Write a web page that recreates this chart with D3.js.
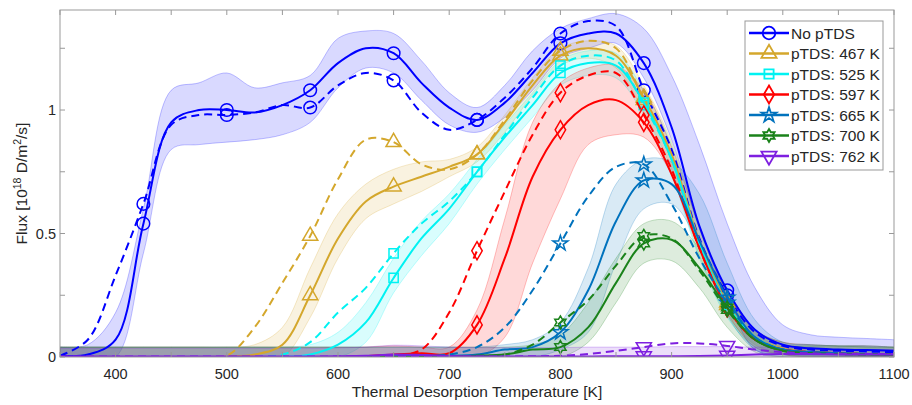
<!DOCTYPE html>
<html>
<head>
<meta charset="utf-8">
<script src="https://cdn.jsdelivr.net/npm/d3@7"></script>
<style>
  body { margin: 0; background: #fff; }
  text { font-family: "Liberation Sans", Arial, sans-serif; fill: #262626; }
</style>
</head>
<body>
<svg id="chart" width="912" height="405"></svg>
<script>
// temperature grid [K]
const temps = [350,375,400,425,450,475,500,525,550,575,600,625,650,675,700,725,750,775,800,825,850,875,900,925,950,975,1000,1025,1050,1075,1100];

// No pTDS
const noSolid  = [0.005,0.01,0.07,0.54,0.95,1.00,1.00,0.99,1.02,1.08,1.19,1.25,1.23,1.11,1.01,0.96,1.03,1.15,1.27,1.31,1.31,1.19,0.93,0.53,0.27,0.11,0.05,0.035,0.03,0.028,0.025];
const noDashed = [0.005,0.07,0.33,0.62,0.94,0.98,0.98,0.99,1.02,1.01,1.10,1.15,1.12,0.99,0.92,0.96,1.05,1.17,1.31,1.36,1.34,1.08,0.84,0.48,0.25,0.10,0.045,0.03,0.025,0.022,0.02];
const noHi     = [0.04,0.05,0.18,0.60,1.08,1.11,1.15,1.09,1.11,1.14,1.29,1.32,1.31,1.20,1.07,1.01,1.10,1.24,1.33,1.37,1.39,1.33,1.14,0.86,0.54,0.28,0.13,0.09,0.08,0.075,0.07];
const noLo     = [0,0,0,0.42,0.84,0.86,0.87,0.88,0.90,0.95,1.09,1.17,1.15,1.04,0.94,0.91,0.97,1.08,1.21,1.25,1.27,1.13,0.88,0.52,0.24,0.03,0.01,0.005,0,0,0];

// pTDS 467 K
const p467Solid  = [0,0,0,0,0,0,0.002,0.01,0.05,0.25,0.48,0.63,0.69,0.73,0.77,0.82,0.95,1.10,1.22,1.25,1.22,1.05,0.82,0.47,0.22,0.08,0.035,0.02,0.015,0.012,0.01];
const p467Dashed = [0,0,0,0,0,0,0.005,0.12,0.30,0.49,0.72,0.88,0.87,0.78,0.76,0.82,0.96,1.12,1.24,1.28,1.25,1.04,0.80,0.45,0.21,0.08,0.03,0.02,0.015,0.012,0.01];
const p467Hi     = [0.04,0.04,0.04,0.04,0.04,0.04,0.04,0.05,0.12,0.36,0.58,0.70,0.76,0.79,0.80,0.85,0.98,1.13,1.25,1.28,1.26,1.10,0.87,0.53,0.27,0.11,0.06,0.05,0.045,0.045,0.04];
const p467Lo     = [0,0,0,0,0,0,0,0,0,0.16,0.40,0.56,0.62,0.67,0.73,0.79,0.91,1.06,1.18,1.21,1.17,0.99,0.76,0.41,0.17,0.05,0.01,0,0,0,0];

// pTDS 525 K
const p525Solid  = [0,0,0,0,0,0,0,0,0,0.01,0.05,0.14,0.32,0.48,0.60,0.75,0.89,1.02,1.15,1.19,1.18,1.03,0.80,0.46,0.21,0.08,0.03,0.02,0.015,0.012,0.01];
const p525Dashed = [0,0,0,0,0,0,0,0,0.01,0.06,0.18,0.28,0.42,0.54,0.63,0.75,0.90,1.05,1.18,1.22,1.20,1.02,0.80,0.45,0.21,0.08,0.03,0.02,0.015,0.012,0.01];
const p525Hi     = [0.04,0.04,0.04,0.04,0.04,0.04,0.04,0.04,0.04,0.05,0.10,0.22,0.40,0.55,0.66,0.80,0.94,1.07,1.20,1.24,1.23,1.08,0.86,0.52,0.26,0.11,0.06,0.05,0.045,0.045,0.04];
const p525Lo     = [0,0,0,0,0,0,0,0,0,0,0,0.06,0.26,0.41,0.54,0.70,0.84,0.97,1.10,1.14,1.13,0.98,0.74,0.40,0.16,0.04,0.01,0,0,0,0];

// pTDS 597 K
const p597Solid  = [0,0,0,0,0,0,0,0,0,0,0,0.003,0.01,0.015,0.015,0.13,0.40,0.73,0.92,1.02,1.04,0.95,0.74,0.44,0.20,0.07,0.03,0.02,0.015,0.012,0.01];
const p597Dashed = [0,0,0,0,0,0,0,0,0,0,0,0,0.005,0.03,0.18,0.43,0.67,0.90,1.07,1.14,1.15,0.98,0.76,0.44,0.20,0.07,0.03,0.02,0.015,0.012,0.01];
const p597Hi     = [0.04,0.04,0.04,0.04,0.04,0.04,0.04,0.04,0.04,0.04,0.04,0.04,0.045,0.04,0.04,0.19,0.56,0.95,1.11,1.17,1.18,1.08,0.85,0.53,0.26,0.11,0.06,0.05,0.045,0.045,0.04];
const p597Lo     = [0,0,0,0,0,0,0,0,0,0,0,0,0,0,0,0,0.08,0.38,0.64,0.86,0.90,0.89,0.74,0.46,0.18,0.04,0.01,0,0,0,0];

// pTDS 665 K
const p665Solid  = [0,0,0,0,0,0,0,0,0,0,0,0,0.003,0.005,0.005,0.01,0.03,0.04,0.10,0.27,0.55,0.715,0.70,0.47,0.24,0.08,0.03,0.02,0.015,0.012,0.01];
const p665Dashed = [0,0,0,0,0,0,0,0,0,0,0,0,0,0.003,0.01,0.04,0.12,0.27,0.46,0.65,0.77,0.78,0.62,0.40,0.22,0.08,0.03,0.02,0.015,0.012,0.01];
const p665Hi     = [0.04,0.04,0.04,0.04,0.04,0.04,0.04,0.04,0.04,0.04,0.04,0.04,0.04,0.04,0.04,0.04,0.05,0.07,0.14,0.36,0.70,0.80,0.79,0.66,0.38,0.15,0.06,0.05,0.045,0.045,0.04];
const p665Lo     = [0,0,0,0,0,0,0,0,0,0,0,0,0,0,0,0,0,0,0.03,0.10,0.38,0.60,0.62,0.45,0.17,0.03,0,0,0,0,0];

// pTDS 700 K
const p700Solid  = [0,0,0,0,0,0,0,0,0,0,0,0,0,0,0.002,0.005,0.01,0.03,0.04,0.12,0.30,0.46,0.475,0.36,0.20,0.07,0.025,0.015,0.012,0.01,0.01];
const p700Dashed = [0,0,0,0,0,0,0,0,0,0,0,0,0,0,0.003,0.005,0.01,0.05,0.14,0.23,0.37,0.49,0.48,0.35,0.19,0.07,0.025,0.015,0.012,0.01,0.01];
const p700Hi     = [0.04,0.04,0.04,0.04,0.04,0.04,0.04,0.04,0.04,0.04,0.04,0.04,0.04,0.04,0.04,0.04,0.04,0.05,0.09,0.22,0.40,0.54,0.55,0.44,0.27,0.11,0.05,0.045,0.045,0.04,0.04];
const p700Lo     = [0,0,0,0,0,0,0,0,0,0,0,0,0,0,0,0,0,0,0,0.06,0.22,0.38,0.39,0.28,0.12,0.02,0,0,0,0,0];

// pTDS 762 K
const p762Solid  = [0.002,0.002,0.002,0.002,0.002,0.002,0.002,0.002,0.002,0.002,0.003,0.005,0.01,0.008,0.004,0.002,0.002,0.002,0.002,0.002,0.003,0.003,0.003,0.004,0.006,0.01,0.012,0.012,0.01,0.01,0.01];
const p762Dashed = [0.002,0.002,0.002,0.002,0.002,0.002,0.002,0.002,0.002,0.002,0.002,0.002,0.003,0.003,0.002,0.002,0.002,0.003,0.005,0.012,0.025,0.04,0.055,0.055,0.045,0.03,0.02,0.015,0.012,0.012,0.012];
const p762Hi     = [0.035,0.035,0.035,0.035,0.035,0.035,0.035,0.035,0.035,0.035,0.037,0.04,0.048,0.045,0.04,0.038,0.038,0.038,0.038,0.04,0.04,0.04,0.042,0.042,0.042,0.04,0.04,0.035,0.03,0.03,0.03];
const p762Lo     = [0,0,0,0,0,0,0,0,0,0,0,0,0,0,0,0,0,0,0,0,0,0,0,0,0,0,0,0,0,0,0];

const labels  = ["No pTDS","pTDS: 467 K","pTDS: 525 K","pTDS: 597 K","pTDS: 665 K","pTDS: 700 K","pTDS: 762 K"];
const colors  = ["#0000ff","#d4a72c","#00f2f2","#ff0000","#0072bd","#1a821a","#7e1fe0"];
const markers = ["circle","triangle","square","diamond","star","hexagram","triangleDown"];
const markerTemps = [
  [425,500,575,650,725,800,875,950],
  [575,650,725,800,875,950],
  [650,725,800,875,950],
  [725,800,875,950],
  [800,875,950],
  [800,875,950],
  [875,950]
];
const solids  = [noSolid,p467Solid,p525Solid,p597Solid,p665Solid,p700Solid,p762Solid];
const dashes  = [noDashed,p467Dashed,p525Dashed,p597Dashed,p665Dashed,p700Dashed,p762Dashed];
const his     = [noHi,p467Hi,p525Hi,p597Hi,p665Hi,p700Hi,p762Hi];
const los     = [noLo,p467Lo,p525Lo,p597Lo,p665Lo,p700Lo,p762Lo];

const xTicks = d3.range(350, 1101, 50);
const yTicks = [0, 0.25, 0.5, 0.75, 1, 1.25];

const svg = d3.select("#chart");
const mLeft = 60, mRight = 894, mTop = 10, mBottom = 357;

const x = d3.scaleLinear().domain([350, 1100]).range([mLeft, mRight]);
const y = d3.scaleLinear().domain([0, 1.405]).range([mBottom, mTop]);

svg.append("defs").append("clipPath").attr("id", "plot")
  .append("rect").attr("x", mLeft).attr("y", mTop)
  .attr("width", mRight - mLeft).attr("height", mBottom - mTop);

// marker shapes
function hexagram(r) {
  const pts = [];
  for (let k = 0; k < 12; k++) {
    const a = -Math.PI / 2 + k * Math.PI / 6;
    const rr = k % 2 ? r / Math.sqrt(3) : r;
    pts.push([rr * Math.cos(a), rr * Math.sin(a)]);
  }
  return "M" + pts.map(p => p.join(",")).join("L") + "Z";
}
function markerPath(type) {
  switch (type) {
    case "circle": return d3.symbol(d3.symbolCircle, 125)();
    case "triangle": return d3.symbol(d3.symbolTriangle, 100)();
    case "triangleDown": return d3.symbol(d3.symbolTriangle, 100)();
    case "square": return d3.symbol(d3.symbolSquare, 85)();
    case "diamond": return d3.symbol(d3.symbolDiamond, 95)();
    case "star": return d3.symbol(d3.symbolStar, 70)();
    case "hexagram": return hexagram(6.5);
  }
}
function markerTransform(type, px, py) {
  return type === "triangleDown" ? `translate(${px},${py}) rotate(180)` : `translate(${px},${py})`;
}

const plot = svg.append("g").attr("clip-path", "url(#plot)");

const curve = d3.curveCatmullRom.alpha(0.5);

const area = d3.area()
  .x((d, i) => x(temps[i]))
  .y0(d => y(d[0]))
  .y1(d => y(d[1]))
  .curve(curve);

const line = d3.line()
  .x((d, i) => x(temps[i]))
  .y(d => y(d))
  .curve(curve);

// shaded bands
labels.forEach((lab, s) => {
  const band = his[s].map((h, i) => [los[s][i], h]);
  plot.append("path")
    .attr("d", area(band))
    .attr("fill", colors[s])
    .attr("fill-opacity", 0.15)
    .attr("stroke", colors[s])
    .attr("stroke-opacity", 0.3)
    .attr("stroke-width", 0.8);
});

// lines and markers
labels.forEach((lab, s) => {
  [dashes[s], solids[s]].forEach((vals, k) => {
    plot.append("path")
      .attr("d", line(vals))
      .attr("fill", "none")
      .attr("stroke", colors[s])
      .attr("stroke-width", 2)
      .attr("stroke-dasharray", k === 0 ? "8,5" : null);
    plot.selectAll(null)
      .data(markerTemps[s])
      .enter()
      .append("path")
      .attr("d", markerPath(markers[s]))
      .attr("transform", t => markerTransform(markers[s], x(t), y(vals[temps.indexOf(t)])))
      .attr("fill", "none")
      .attr("stroke", colors[s])
      .attr("stroke-width", 1.5);
  });
});

// axes box and ticks (MATLAB style, ticks inward on all sides)
const axisColor = "#999";
const frame = svg.append("g");
frame.append("rect")
  .attr("x", mLeft).attr("y", mTop)
  .attr("width", mRight - mLeft).attr("height", mBottom - mTop)
  .attr("fill", "none").attr("stroke", axisColor).attr("stroke-width", 1);

const tickLen = 5;
xTicks.forEach(t => {
  frame.append("line").attr("x1", x(t)).attr("x2", x(t)).attr("y1", mBottom).attr("y2", mBottom - tickLen).attr("stroke", axisColor);
  frame.append("line").attr("x1", x(t)).attr("x2", x(t)).attr("y1", mTop).attr("y2", mTop + tickLen).attr("stroke", axisColor);
  if (t % 100 === 0) {
    frame.append("text").attr("x", x(t)).attr("y", mBottom + 22)
      .attr("text-anchor", "middle").attr("font-size", 14.5).text(t);
  }
});
yTicks.forEach(t => {
  frame.append("line").attr("x1", mLeft).attr("x2", mLeft + tickLen).attr("y1", y(t)).attr("y2", y(t)).attr("stroke", axisColor);
  frame.append("line").attr("x1", mRight).attr("x2", mRight - tickLen).attr("y1", y(t)).attr("y2", y(t)).attr("stroke", axisColor);
  if (t === 0 || t === 0.5 || t === 1) {
    frame.append("text").attr("x", mLeft - 4).attr("y", y(t) + 5)
      .attr("text-anchor", "end").attr("font-size", 14.5).text(t);
  }
});

svg.append("text")
  .attr("x", (mLeft + mRight) / 2).attr("y", 397)
  .attr("text-anchor", "middle").attr("font-size", 15.5)
  .text("Thermal Desorption Temperature [K]");

const yl = svg.append("text")
  .attr("transform", `translate(27,${(mTop + mBottom) / 2}) rotate(-90)`)
  .attr("text-anchor", "middle").attr("font-size", 15.5);
yl.append("tspan").text("Flux [10");
yl.append("tspan").attr("font-size", 10.5).attr("dy", -6).text("18");
yl.append("tspan").attr("dy", 6).text(" D/m");
yl.append("tspan").attr("font-size", 10.5).attr("dy", -6).text("2");
yl.append("tspan").attr("dy", 6).text("/s]");

// legend
const lg = svg.append("g");
lg.append("rect")
  .attr("x", 745).attr("y", 21).attr("width", 138).attr("height", 149)
  .attr("fill", "#fff").attr("stroke", axisColor).attr("stroke-width", 1);
labels.forEach((lab, s) => {
  const ly = 33 + s * 20.5;
  lg.append("line").attr("x1", 749).attr("x2", 789).attr("y1", ly).attr("y2", ly)
    .attr("stroke", colors[s]).attr("stroke-width", 2.5);
  lg.append("path")
    .attr("d", markerPath(markers[s]))
    .attr("transform", markerTransform(markers[s], 769, ly))
    .attr("fill", "none").attr("stroke", colors[s]).attr("stroke-width", 1.8);
  lg.append("text").attr("x", 791).attr("y", ly + 5.5)
    .attr("font-size", 15.5).text(lab);
});
</script>
</body>
</html>
